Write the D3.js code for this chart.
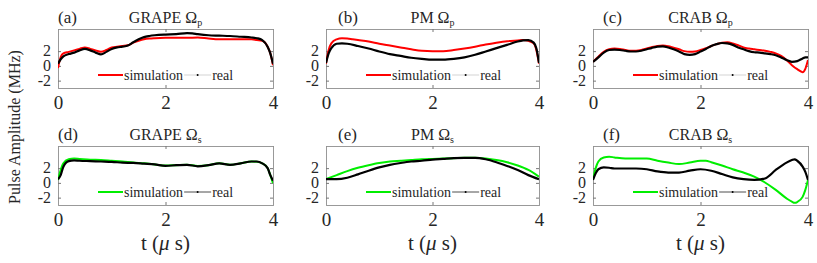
<!DOCTYPE html>
<html>
<head>
<meta charset="utf-8">
<script src="https://cdn.jsdelivr.net/npm/d3@7"></script>
<style>
  body { margin: 0; background: #fff; }
</style>
</head>
<body>
<svg id="fig" width="817" height="263"></svg>
<script>
// ---- data: [t (us), amplitude (MHz)] ----
let grapeP_sim = [[0,-0.3],[0.05,1.2],[0.1,1.7],[0.2,1.9],[0.3,2.1],[0.4,2.3],[0.5,2.5],[0.6,2.3],[0.7,2.1],[0.8,1.9],[0.9,2.15],[1.0,2.5],[1.1,2.6],[1.2,2.7],[1.3,2.8],[1.4,3.15],[1.5,3.4],[1.6,3.6],[1.7,3.7],[1.8,3.75],[2.0,3.8],[2.2,3.8],[2.4,3.8],[2.6,3.85],[2.8,3.7],[3.0,3.6],[3.2,3.6],[3.4,3.6],[3.6,3.6],[3.7,3.5],[3.8,3.4],[3.9,2.6],[3.95,1.7],[4.0,0.1]];
let grapeP_real = [[0,0.3],[0.05,0.9],[0.1,1.3],[0.2,1.6],[0.3,1.8],[0.4,2.1],[0.5,2.3],[0.6,2.1],[0.7,1.8],[0.8,1.55],[0.9,1.9],[1.0,2.3],[1.1,2.5],[1.2,2.6],[1.3,2.75],[1.4,3.2],[1.5,3.6],[1.6,3.9],[1.7,4.05],[1.8,4.15],[2.0,4.25],[2.2,4.3],[2.4,4.45],[2.5,4.4],[2.6,4.3],[2.8,4.15],[3.0,4.1],[3.2,4.05],[3.4,3.95],[3.6,3.85],[3.7,3.75],[3.8,3.5],[3.9,2.6],[3.95,1.7],[4.0,0.3]];
let pmP_sim = [[0,0.3],[0.05,2.15],[0.1,3.05],[0.2,3.6],[0.3,3.75],[0.4,3.7],[0.5,3.6],[0.6,3.5],[0.8,3.3],[1.0,3.0],[1.2,2.75],[1.4,2.5],[1.6,2.25],[1.8,2.05],[2.0,2.0],[2.2,2.0],[2.4,2.15],[2.6,2.35],[2.8,2.6],[3.0,2.9],[3.2,3.15],[3.4,3.35],[3.6,3.45],[3.7,3.5],[3.8,3.4],[3.9,3.05],[3.95,2.15],[4.0,0.3]];
let pmP_real = [[0,0.4],[0.05,1.7],[0.1,2.4],[0.2,3.0],[0.3,3.05],[0.4,3.0],[0.6,2.7],[0.8,2.35],[1.0,1.95],[1.2,1.6],[1.4,1.35],[1.6,1.1],[1.8,0.95],[2.0,0.85],[2.2,0.85],[2.4,0.95],[2.6,1.15],[2.8,1.5],[3.0,1.95],[3.2,2.4],[3.4,2.85],[3.6,3.3],[3.7,3.45],[3.8,3.5],[3.9,3.15],[3.95,2.4],[4.0,0.4]];
let crabP_sim = [[0,0.55],[0.1,1.25],[0.2,1.9],[0.3,2.25],[0.4,2.35],[0.5,2.3],[0.6,2.15],[0.7,2.05],[0.8,2.05],[0.9,2.15],[1.0,2.35],[1.1,2.55],[1.2,2.7],[1.3,2.75],[1.4,2.65],[1.5,2.45],[1.6,2.25],[1.7,2.0],[1.8,1.9],[1.9,1.95],[2.0,2.15],[2.1,2.4],[2.2,2.7],[2.3,2.95],[2.4,3.15],[2.5,3.2],[2.6,3.05],[2.7,2.8],[2.8,2.5],[2.9,2.35],[3.0,2.25],[3.1,2.15],[3.2,2.05],[3.3,1.9],[3.4,1.7],[3.5,1.35],[3.6,0.8],[3.7,0.1],[3.8,-0.45],[3.9,-0.85],[3.95,-0.4],[4.0,0.8]];
let crabP_real = [[0,0.55],[0.1,1.15],[0.2,1.8],[0.3,2.15],[0.4,2.2],[0.5,2.15],[0.6,2.05],[0.7,1.95],[0.8,1.95],[0.9,2.05],[1.0,2.25],[1.1,2.45],[1.2,2.6],[1.3,2.65],[1.4,2.5],[1.5,2.25],[1.6,1.95],[1.7,1.6],[1.8,1.5],[1.9,1.6],[2.0,1.95],[2.1,2.3],[2.2,2.7],[2.3,2.95],[2.4,3.1],[2.5,3.05],[2.6,2.85],[2.7,2.5],[2.8,2.25],[2.9,2.0],[3.0,1.85],[3.1,1.8],[3.2,1.7],[3.3,1.6],[3.4,1.45],[3.5,1.15],[3.6,0.8],[3.7,0.55],[3.8,0.65],[3.9,1.0],[3.95,1.15],[4.0,1.15]];
let grapeS_sim = [[0,0.4],[0.05,1.75],[0.1,2.65],[0.2,3.2],[0.3,3.3],[0.4,3.25],[0.6,3.15],[0.8,3.1],[1.0,3.0],[1.2,2.9],[1.4,2.75],[1.6,2.65],[1.8,2.5],[2.0,2.35],[2.2,2.4],[2.4,2.45],[2.6,2.3],[2.8,2.4],[3.0,2.65],[3.2,2.45],[3.4,2.65],[3.6,2.9],[3.7,2.85],[3.8,2.65],[3.9,2.0],[3.95,1.05],[4.0,-0.05]];
let grapeS_real = [[0,0.5],[0.05,1.05],[0.1,2.2],[0.2,2.95],[0.3,3.05],[0.4,3.0],[0.6,2.95],[0.8,2.9],[1.0,2.85],[1.2,2.75],[1.4,2.7],[1.6,2.6],[1.8,2.5],[2.0,2.3],[2.2,2.4],[2.4,2.45],[2.6,2.25],[2.8,2.4],[3.0,2.65],[3.2,2.45],[3.4,2.65],[3.6,2.9],[3.7,2.9],[3.8,2.65],[3.9,2.0],[3.95,1.05],[4.0,0.3]];
let pmS_sim = [[0,0.5],[0.2,1.05],[0.4,1.6],[0.6,2.05],[0.8,2.4],[1.0,2.7],[1.2,2.9],[1.4,3.0],[1.6,3.1],[1.8,3.2],[2.0,3.25],[2.2,3.3],[2.4,3.35],[2.6,3.4],[2.8,3.4],[3.0,3.3],[3.2,3.1],[3.4,2.8],[3.6,2.35],[3.8,1.75],[4.0,0.85]];
let pmS_real = [[0,0.5],[0.2,0.5],[0.4,0.7],[0.6,1.15],[0.8,1.65],[1.0,2.1],[1.2,2.45],[1.4,2.7],[1.6,2.9],[1.8,3.0],[2.0,3.15],[2.2,3.25],[2.4,3.35],[2.6,3.4],[2.8,3.4],[3.0,3.2],[3.2,2.8],[3.4,2.3],[3.6,1.75],[3.8,1.05],[4.0,0.5]];
let crabS_sim = [[0,0.5],[0.05,2.0],[0.1,2.9],[0.2,3.45],[0.3,3.55],[0.4,3.45],[0.6,3.3],[0.8,3.3],[1.0,3.3],[1.2,3.0],[1.4,2.75],[1.6,2.55],[1.8,2.75],[2.0,3.0],[2.1,3.0],[2.2,2.8],[2.4,2.35],[2.6,1.85],[2.8,1.4],[3.0,0.85],[3.2,0.05],[3.4,-0.95],[3.6,-2.1],[3.7,-2.55],[3.75,-2.7],[3.8,-2.6],[3.9,-1.9],[3.95,-0.95],[4.0,0.4]];
let crabS_real = [[0,0.4],[0.05,1.3],[0.1,1.85],[0.2,2.1],[0.3,2.05],[0.4,1.95],[0.6,1.95],[0.8,1.95],[1.0,1.85],[1.2,1.55],[1.4,1.4],[1.6,1.4],[1.8,1.65],[2.0,1.85],[2.2,1.65],[2.4,1.2],[2.6,0.75],[2.8,0.5],[3.0,0.4],[3.2,0.6],[3.4,1.75],[3.6,2.75],[3.7,3.1],[3.75,3.2],[3.8,3.0],[3.9,2.2],[3.95,1.5],[4.0,0.4]];

let panelLabels = ["(a)", "(b)", "(c)", "(d)", "(e)", "(f)"];
let methods = ["GRAPE", "PM", "CRAB", "GRAPE", "PM", "CRAB"];
let subs = ["p", "p", "p", "s", "s", "s"];
let simSeries = [grapeP_sim, pmP_sim, crabP_sim, grapeS_sim, pmS_sim, crabS_sim];
let realSeries = [grapeP_real, pmP_real, crabP_real, grapeS_real, pmS_real, crabS_real];
let xTicks = [0, 2, 4];
let yTicks = [-2, 0, 2];
let legendNames = ["simulation", "real"];

// ---- layout ----
let serif = '"Liberation Serif"';
let colLeft = [58, 326, 593];
let colWidth = [215, 213, 215];
let labelX = [58, 338, 603];
let rowTop = [29, 146];
let panelH = 59;
let simColor = ["#ff0000", "#00ee00"];
let realLegendColor = ["#c8c8c8", "#222"];

let svg = d3.select("#fig");

panelLabels.forEach((lab, i) => {
    let col = i % 3, row = Math.floor(i / 3);
    let w = colWidth[col];
    let g = svg.append("g")
        .attr("transform", `translate(${colLeft[col]},${rowTop[row]})`);

    let x = d3.scaleLinear().domain([0, 4]).range([0, w]);
    let y = d3.scaleLinear().domain([-3, 5]).range([panelH, 0]);

    g.append("clipPath").attr("id", "clip" + i)
        .append("rect").attr("width", w).attr("height", panelH);

    // axes (MATLAB style box, inward ticks)
    let axB = g.append("g").attr("transform", `translate(0,${panelH})`)
        .call(d3.axisBottom(x).tickValues(xTicks).tickSize(-3).tickPadding(8).tickFormat(d => d));
    let axT = g.append("g").call(d3.axisTop(x).tickValues(xTicks).tickSize(-3).tickFormat(""));
    let axL = g.append("g").call(d3.axisLeft(y).tickValues(yTicks).tickSize(-3).tickPadding(7).tickFormat(d => String(d)));
    let axR = g.append("g").attr("transform", `translate(${w},0)`)
        .call(d3.axisRight(y).tickValues(yTicks).tickSize(-3).tickFormat(""));
    [axB, axT, axL, axR].forEach(a => {
        a.select(".domain").attr("stroke", "#999").attr("stroke-width", 1);
        a.selectAll(".tick line").attr("stroke", "#777");
    });
    axB.selectAll("text").style("font-size", "19px");
    axL.selectAll("text").style("font-size", "16px").attr("dy", "0.3em");

    let line = d3.line()
        .x(d => x(d[0]))
        .y(d => y(d[1]))
        .curve(d3.curveMonotoneX);

    let plot = g.append("g").attr("clip-path", `url(#clip${i})`);
    plot.append("path").datum(simSeries[i])
        .attr("d", line).attr("fill", "none")
        .attr("stroke", simColor[row]).attr("stroke-width", 2);
    plot.append("path").datum(realSeries[i])
        .attr("d", line).attr("fill", "none")
        .attr("stroke", "#000").attr("stroke-width", 2.2);

    // titles
    svg.append("text")
        .attr("x", labelX[col]).attr("y", rowTop[row] - 6)
        .style("font-size", "17px").text(lab);
    let title = svg.append("text")
        .attr("x", colLeft[col] + w / 2).attr("y", rowTop[row] - 6)
        .attr("text-anchor", "middle").style("font-size", "16px");
    title.append("tspan").text(methods[i] + " \u03A9");
    title.append("tspan").attr("dy", 3).style("font-size", "10px").text(subs[i]);

    // legend
    let lg = g.append("g").attr("transform", `translate(40,${panelH - 13})`);
    lg.append("line").attr("x1", 0).attr("x2", 25)
        .attr("stroke", simColor[row]).attr("stroke-width", 2);
    let t1 = lg.append("text").attr("x", 26).attr("dy", "0.33em")
        .style("font-family", serif).style("font-size", "14px").text(legendNames[0]);
    let x2 = 26 + t1.node().getComputedTextLength() + 1;
    lg.append("line").attr("x1", x2).attr("x2", x2 + 27)
        .attr("stroke", realLegendColor[row]).attr("stroke-width", 0.8);
    lg.append("circle").attr("cx", x2 + 13.5).attr("r", 1).attr("fill", "#000");
    lg.append("text").attr("x", x2 + 28).attr("dy", "0.33em")
        .style("font-size", "14px").text(legendNames[1]);

    // x label
    if (row === 1) {
        let xl = svg.append("text")
            .attr("x", colLeft[col] + w / 2).attr("y", 250)
            .attr("text-anchor", "middle").style("font-size", "21px");
        xl.append("tspan").text("t (");
        xl.append("tspan").style("font-style", "italic").text("\u03BC");
        xl.append("tspan").text(" s)");
    }
});

// shared y label
svg.append("text")
    .attr("transform", "translate(20,127) rotate(-90)")
    .attr("text-anchor", "middle")
    .style("font-size", "16px")
    .text("Pulse Amplitude (MHz)");

// every text in Times-like serif
svg.selectAll("text").style("font-family", serif).attr("fill", "#262626");
</script>
</body>
</html>
